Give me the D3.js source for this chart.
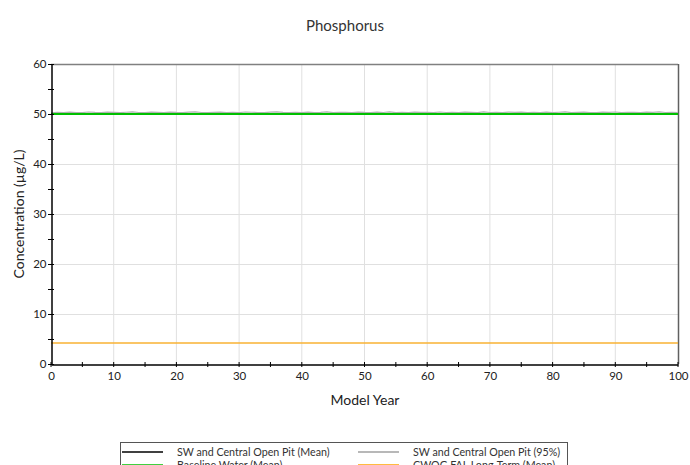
<!DOCTYPE html>
<html><head><meta charset="utf-8">
<script src="https://cdn.jsdelivr.net/npm/d3@7"></script>
<style>body{margin:0;background:#fff}svg{display:block}text{font-family:Lato,"Open Sans",sans-serif}</style>
</head><body><svg id="c" width="690" height="465"></svg>
<script>
const title = "Phosphorus";
const xLabel = "Model Year";
const yLabel = "Concentration (µg/L)";
const xTicks = [0,10,20,30,40,50,60,70,80,90,100];
const yTicks = [0,10,20,30,40,50,60];
const years = d3.range(0, 101);
const meanSW = [50.02,50.03,50.02,50.04,50.03,50.02,50.05,50.03,50.04,50.02,50.03,50.04,50.03,50.02,50.04,50.05,50.03,50.02,50.03,50.04,50.02,50.03,50.05,50.04,50.03,50.02,50.03,50.04,50.02,50.03,50.04,50.03,50.05,50.02,50.03,50.04,50.03,50.02,50.04,50.03,50.02,50.03,50.04,50.05,50.03,50.02,50.03,50.04,50.02,50.03,50.04,50.03,50.02,50.05,50.03,50.04,50.02,50.03,50.04,50.03,50.02,50.03,50.04,50.02,50.05,50.03,50.04,50.03,50.02,50.03,50.04,50.03,50.02,50.04,50.03,50.05,50.02,50.03,50.04,50.03,50.02,50.03,50.04,50.02,50.03,50.05,50.04,50.03,50.02,50.03,50.04,50.03,50.02,50.04,50.03,50.02,50.03,50.05,50.04,50.03,50.02];
const p95SW = [50.25,50.32,50.28,50.36,50.30,50.27,50.40,50.33,50.29,50.38,50.31,50.26,50.35,50.42,50.30,50.28,50.37,50.33,50.27,50.39,50.31,50.29,50.36,50.41,50.30,50.26,50.34,50.38,50.29,50.32,50.27,50.40,50.35,50.30,50.28,50.37,50.43,50.31,50.27,50.34,50.30,50.38,50.29,50.33,50.41,50.28,50.35,50.31,50.26,50.39,50.32,50.28,50.36,50.30,50.42,50.29,50.34,50.27,50.38,50.31,50.33,50.28,50.40,50.30,50.35,50.27,50.37,50.32,50.29,50.41,50.30,50.34,50.28,50.36,50.31,50.39,50.27,50.33,50.30,50.38,50.29,50.35,50.42,50.28,50.32,50.37,50.30,50.27,50.36,50.33,50.40,50.29,50.34,50.31,50.28,50.39,50.32,50.43,50.30,50.35,50.29];
const baseline = [50.0,50.0];
const baselineYears = [0,100];
const cwqg = [4.2,4.2];

const legendItems = [
  {label:"SW and Central Open Pit (Mean)", color:"#000000"},
  {label:"SW and Central Open Pit (95%)", color:"#a0a0a0"},
  {label:"Baseline Water (Mean)", color:"#00c000"},
  {label:"CWQG FAL Long-Term (Mean)", color:"#ffa500"}
];

const svg = d3.select("#c");
const m = {l:51, r:678, t:64, b:364};
const x = d3.scaleLinear().domain([0,100]).range([m.l, m.r]);
const y = d3.scaleLinear().domain([0,60]).range([m.b, m.t]);

// grid
svg.append("g").selectAll("line").data(xTicks.slice(1,-1)).join("line")
  .attr("x1",d=>x(d)).attr("x2",d=>x(d)).attr("y1",m.t).attr("y2",m.b)
  .attr("stroke","#e0e0e0").attr("stroke-width",1);
svg.append("g").selectAll("line").data(yTicks.slice(1,-1)).join("line")
  .attr("y1",d=>y(d)+0.5).attr("y2",d=>y(d)+0.5).attr("x1",m.l).attr("x2",m.r)
  .attr("stroke","#e0e0e0").attr("stroke-width",1);

// frame top/right
svg.append("line").attr("x1",m.l).attr("x2",m.r).attr("y1",m.t+0.5).attr("y2",m.t+0.5).attr("stroke","#808080").attr("stroke-width",1.5);
svg.append("line").attr("x1",m.r+0.5).attr("x2",m.r+0.5).attr("y1",m.t).attr("y2",m.b).attr("stroke","#606060").attr("stroke-width",1.5);

// series
const line = (xs, ys) => d3.line().x((d,i)=>x(xs[i])).y(d=>y(d))(ys);
svg.append("path").attr("d",line(years,p95SW)).attr("fill","none").attr("stroke","#b0b0b0").attr("stroke-width",1.2);
svg.append("path").attr("d",line(years,meanSW)).attr("fill","none").attr("stroke","#000").attr("stroke-width",1.2);
svg.append("path").attr("d",line(baselineYears,baseline)).attr("fill","none").attr("stroke","#00c000").attr("stroke-width",2);
svg.append("path").attr("d",line(baselineYears,cwqg)).attr("fill","none").attr("stroke","#f9b233").attr("stroke-width",1.5);

// axes
const xa = svg.append("g").attr("transform",`translate(0,${m.b+0.5})`)
  .call(d3.axisBottom(x).tickValues(xTicks).tickSize(0).tickPadding(7).tickFormat(d3.format("d")));
xa.select(".domain").attr("stroke","#000").attr("stroke-width",1.5);
xa.selectAll("text").attr("font-size",11.5).attr("fill","#222");
svg.append("g").selectAll("line").data(d3.range(0,101,5)).join("line")
  .attr("x1",d=>x(d)).attr("x2",d=>x(d)).attr("y1",m.b-2).attr("y2",m.b+3).attr("stroke","#000");

const ya = svg.append("g").attr("transform",`translate(${m.l+0.5},0)`)
  .call(d3.axisLeft(y).tickValues(yTicks).tickSize(0).tickPadding(5).tickFormat(d3.format("d")));
ya.select(".domain").attr("stroke","#000").attr("stroke-width",1.5);
ya.selectAll("text").attr("font-size",11.5).attr("fill","#222");
svg.append("g").selectAll("line").data(d3.range(0,61,5)).join("line")
  .attr("y1",d=>y(d)+0.5).attr("y2",d=>y(d)+0.5).attr("x1",m.l-3).attr("x2",m.l+3).attr("stroke","#000");

// labels
svg.append("text").attr("x",345).attr("y",31).attr("text-anchor","middle").attr("font-size",15).attr("fill","#333").text(title);
svg.append("text").attr("x",365).attr("y",405).attr("text-anchor","middle").attr("font-size",14).attr("fill","#222").text(xLabel);
svg.append("text").attr("transform",`translate(24,${(m.t+m.b)/2}) rotate(-90)`).attr("text-anchor","middle").attr("font-size",14).attr("fill","#222").text(yLabel);

// legend
svg.append("rect").attr("x",120.5).attr("y",442.5).attr("width",447).attr("height",40).attr("fill","#fff").attr("stroke","#555");
const lg = svg.append("g").selectAll("g").data(legendItems).join("g")
  .attr("transform",(d,i)=>`translate(${i%2===0?122:358},${452+Math.floor(i/2)*13})`);
lg.append("line").attr("x1",0).attr("x2",41).attr("y1",0).attr("y2",0).attr("stroke",d=>d.color).attr("stroke-width",1.5);
lg.append("text").attr("x",55).attr("y",4).attr("font-size",10.7).attr("fill","#333").text(d=>d.label);
</script></body></html>
